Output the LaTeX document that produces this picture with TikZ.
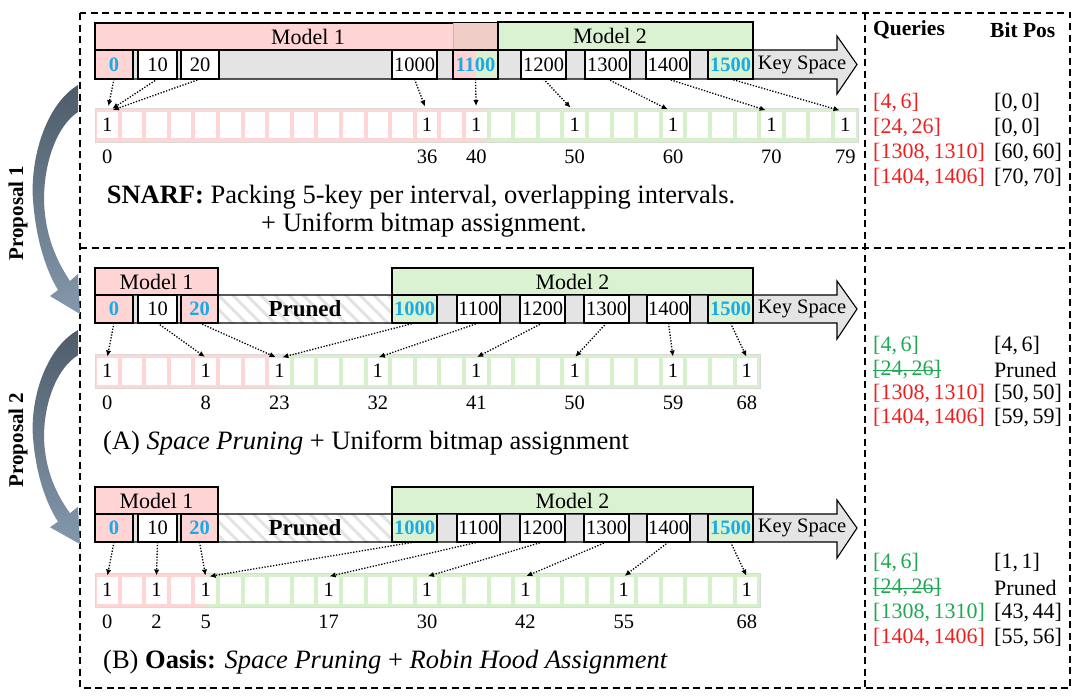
\documentclass[tikz,border=0pt]{standalone}
\usepackage{fontspec}
\setmainfont{Liberation Serif}
\usetikzlibrary{arrows.meta,patterns.meta}
\definecolor{pinkM}{RGB}{255,212,212}
\definecolor{greenM}{RGB}{218,242,210}
\definecolor{grayK}{RGB}{228,228,228}
\definecolor{blueK}{RGB}{26,170,230}
\definecolor{redQ}{RGB}{240,30,30}
\definecolor{greenQ}{RGB}{30,168,82}
\definecolor{overlapC}{RGB}{240,205,198}
\definecolor{pinkS}{RGB}{255,214,214}
\definecolor{greenS}{RGB}{214,240,204}
\definecolor{arrowTop}{RGB}{78,92,106}
\definecolor{arrowBot}{RGB}{132,152,172}
\newcommand\kc[7]{\node[keybox,#6,minimum width={#3-#2},minimum height={#5-#4}] (#1) at ({(#2+#3)/2},{(#4+#5)/2}) {#7};}
\begin{document}
\begin{tikzpicture}[x=1pt,y=-1pt,
 every node/.style={font=\fontsize{20.5}{24}\selectfont},
 keybox/.style={draw=black,line width=1.1pt,inner sep=0pt,outer sep=0pt},
 modelbox/.style={draw=black,line width=1.1pt,inner sep=0pt,outer sep=0pt,font=\fontsize{22}{26}\selectfont},
 modellab/.style={inner sep=0pt,font=\fontsize{22}{26}\selectfont},
 hl/.style={text=blueK,font=\fontsize{20.5}{24}\selectfont\bfseries},
 bitcell/.style={fill=white,inner sep=0pt,outer sep=0pt,minimum width=20.5pt,minimum height=26pt},
 bitlab/.style={inner sep=0pt},
 dotarr/.style={dash pattern=on 1.3pt off 1.6pt,line width=1.3pt,-{Latex[length=6pt,width=5.5pt]}},
 qtxt/.style={anchor=west,inner sep=0pt,font=\fontsize{22}{26}\selectfont},
 qhead/.style={anchor=west,inner sep=0pt,font=\fontsize{21.5}{25}\selectfont\bfseries},
 captext/.style={inner sep=0pt,font=\fontsize{26.5}{31}\selectfont},
 prunedtext/.style={inner sep=0pt,font=\fontsize{23}{27}\selectfont\bfseries},
 proptext/.style={rotate=90,inner sep=0pt,font=\fontsize{21}{25}\selectfont\bfseries},
 dashbox/.style={dash pattern=on 7pt off 4.5pt,line width=1.8pt},
 hatch/.style={pattern={Lines[angle=-45,distance=10pt,line width=3pt]},pattern color=gray!22},
]
\useasboundingbox (0,0) rectangle (1080,699);

% ================= TOP: SNARF =================
\fill[grayK] (95,50) -- (837,50) -- (837,36) -- (857,64.5) -- (837,94) -- (837,79) -- (95,79) -- cycle;
\node[modelbox,fill=pinkM,minimum width=403pt,minimum height=27pt] (tM1) at (296.5,36.5) {};
\fill[overlapC] (453,23) rectangle (498,50);
\draw[gray!55,line width=0.6pt] (453,23) -- (453,50);
\node[modelbox,fill=greenM,minimum width=255pt,minimum height=28pt] (tM2) at (625.5,36) {};
\node[modellab] (tM1l) at (308,36.5) {Model 1};
\node[modellab] (tM2l) at (610,36) {Model 2};
\kc{t0}{95}{133}{50}{79}{fill=pinkM,hl}{0}
\kc{t10}{138}{177}{50}{79}{fill=white}{10}
\kc{t20}{181}{219}{50}{79}{fill=white}{20}
\kc{t1000}{392}{437}{50}{79}{fill=white}{1000}
\fill[pinkM] (453,50) rectangle (476,79);
\fill[greenM] (476,50) rectangle (498,79);
\kc{t1100}{453}{498}{50}{79}{hl}{1100}
\kc{t1200}{521}{566}{50}{79}{fill=white}{1200}
\kc{t1300}{585}{630}{50}{79}{fill=white}{1300}
\kc{t1400}{646}{690}{50}{79}{fill=white}{1400}
\kc{t1500}{708}{753}{50}{79}{fill=greenM,hl}{1500}
\draw[line width=1.1pt,line join=miter] (95,50) -- (837,50) -- (837,36) -- (857,64.5) -- (837,94) -- (837,79) -- (95,79) -- cycle;
\node (tks) at (802,64.5) {Key Space};

\fill[pinkS] (95,108) rectangle (478,142);
\shade[left color=pinkS,right color=greenS] (478,108) rectangle (490,142);
\fill[greenS] (490,108) rectangle (858,142);
\draw[gray!30,line width=0.5pt] (95,108) rectangle (858,142);
\foreach \i in {0,...,30}{
  \gdef\bitval{}
  \foreach \j in {0,13,15,19,23,27,30}{\ifnum\i=\j\relax\gdef\bitval{1}\fi}
  \node[bitcell] (ta\i) at ({107.25+24.6*\i},125) {\bitval};
}
\foreach \i/\l in {0/0,13/36,15/40,19/50,23/60,27/70,30/79}
  \node[bitlab] (tl\i) at ({107.25+24.6*\i},157) {\l};
\draw[dotarr,shorten >=6pt] (t0.south) -- (ta0.north);
\draw[dotarr,shorten >=6pt] (t10.south) -- (ta0.north);
\draw[dotarr,shorten >=6pt] (t20.south) -- (ta0.north);
\draw[dotarr,shorten >=6pt] (t1000.south) -- (ta13.north);
\draw[dotarr,shorten >=6pt] (t1100.south) -- (ta15.north);
\draw[dotarr,shorten >=6pt] (t1200.south) -- (ta19.north);
\draw[dotarr,shorten >=6pt] (t1300.south) -- (ta23.north);
\draw[dotarr,shorten >=6pt] (t1400.south) -- (ta27.north);
\draw[dotarr,shorten >=6pt] (t1500.south) -- (ta30.north);
\node[captext] (capS1) at (421,197) {\textbf{SNARF:} Packing 5-key per interval, overlapping intervals.};
\node[captext] (capS2) at (424,225) {+ Uniform bitmap assignment.};

% ================= MIDDLE: (A) =================
\node[modelbox,fill=pinkM,minimum width=123pt,minimum height=27pt] (mM1) at (156.5,281.5) {Model 1};
\node[modelbox,fill=greenM,minimum width=361pt,minimum height=27pt] (mM2) at (572.5,281.5) {Model 2};
\fill[grayK] (95,295) -- (837,295) -- (837,281) -- (857,309) -- (837,339) -- (837,323) -- (95,323) -- cycle;
\fill[white] (218,295) rectangle (392,323);
\fill[hatch] (218,295) rectangle (392,323);
\kc{m0}{95}{133}{295}{323}{fill=pinkM,hl}{0}
\kc{m10}{138}{177}{295}{323}{fill=white}{10}
\kc{m20}{181}{218}{295}{323}{fill=pinkM,hl}{20}
\kc{m1000}{392}{437}{295}{323}{fill=greenM,hl}{1000}
\kc{m1100}{457}{500}{295}{323}{fill=white}{1100}
\kc{m1200}{520}{565}{295}{323}{fill=white}{1200}
\kc{m1300}{584}{629}{295}{323}{fill=white}{1300}
\kc{m1400}{647}{690}{295}{323}{fill=white}{1400}
\kc{m1500}{708}{753}{295}{323}{fill=greenM,hl}{1500}
\draw[line width=1.1pt,line join=miter] (95,295) -- (837,295) -- (837,281) -- (857,309) -- (837,339) -- (837,323) -- (95,323) -- cycle;
\node (mks) at (802,309) {Key Space};
\node[prunedtext] (mpr) at (305,309) {Pruned};

\fill[pinkS] (95,354) rectangle (275,388);
\shade[left color=pinkS,right color=greenS] (275,354) rectangle (285,388);
\fill[greenS] (285,354) rectangle (760,388);
\draw[gray!30,line width=0.5pt] (95,354) rectangle (760,388);
\foreach \i in {0,...,26}{
  \gdef\bitval{}
  \foreach \j in {0,4,7,11,15,19,23,26}{\ifnum\i=\j\relax\gdef\bitval{1}\fi}
  \node[bitcell,minimum height=27pt] (bm\i) at ({107.25+24.6*\i},371) {\bitval};
}
\foreach \i/\l in {0/0,4/8,7/23,11/32,15/41,19/50,23/59,26/68}
  \node[bitlab] (ml\i) at ({107.25+24.6*\i},403) {\l};
\draw[dotarr,shorten >=1pt] (m0.south) -- (bm0.north);
\draw[dotarr,shorten >=1pt] (m10.south) -- (bm4.north);
\draw[dotarr,shorten >=1pt] (m20.south) -- ([xshift=-3pt]bm7.north);
\draw[dotarr,shorten >=1pt] (m1000.south) -- ([xshift=2pt]bm7.north);
\draw[dotarr,shorten >=1pt] (m1100.south) -- (bm11.north);
\draw[dotarr,shorten >=1pt] (m1200.south) -- (bm15.north);
\draw[dotarr,shorten >=1pt] (m1300.south) -- (bm19.north);
\draw[dotarr,shorten >=1pt] (m1400.south) -- (bm23.north);
\draw[dotarr,shorten >=1pt] (m1500.south) -- (bm26.north);
\node[captext,anchor=west] (capA) at (103,443) {(A) \textit{Space Pruning} + Uniform bitmap assignment};

% ================= BOTTOM: (B) =================
\node[modelbox,fill=pinkM,minimum width=123pt,minimum height=27pt] (bM1) at (156.5,500.5) {Model 1};
\node[modelbox,fill=greenM,minimum width=361pt,minimum height=27pt] (bM2) at (572.5,500.5) {Model 2};
\fill[grayK] (95,514) -- (837,514) -- (837,500) -- (857,528) -- (837,558) -- (837,542) -- (95,542) -- cycle;
\fill[white] (218,514) rectangle (392,542);
\fill[hatch] (218,514) rectangle (392,542);
\kc{b0}{95}{133}{514}{542}{fill=pinkM,hl}{0}
\kc{b10}{138}{177}{514}{542}{fill=white}{10}
\kc{b20}{181}{218}{514}{542}{fill=pinkM,hl}{20}
\kc{b1000}{392}{437}{514}{542}{fill=greenM,hl}{1000}
\kc{b1100}{457}{500}{514}{542}{fill=white}{1100}
\kc{b1200}{520}{565}{514}{542}{fill=white}{1200}
\kc{b1300}{584}{629}{514}{542}{fill=white}{1300}
\kc{b1400}{647}{690}{514}{542}{fill=white}{1400}
\kc{b1500}{708}{753}{514}{542}{fill=greenM,hl}{1500}
\draw[line width=1.1pt,line join=miter] (95,514) -- (837,514) -- (837,500) -- (857,528) -- (837,558) -- (837,542) -- (95,542) -- cycle;
\node (bks) at (802,528) {Key Space};
\node[prunedtext] (bpr) at (305,528) {Pruned};

\fill[pinkS] (95,573) rectangle (201,607);
\shade[left color=pinkS,right color=greenS] (201,573) rectangle (211,607);
\fill[greenS] (211,573) rectangle (760,607);
\draw[gray!30,line width=0.5pt] (95,573) rectangle (760,607);
\foreach \i in {0,...,26}{
  \gdef\bitval{}
  \foreach \j in {0,2,4,9,13,17,21,26}{\ifnum\i=\j\relax\gdef\bitval{1}\fi}
  \node[bitcell,minimum height=27pt] (bb\i) at ({107.25+24.6*\i},590) {\bitval};
}
\foreach \i/\l in {0/0,2/2,4/5,9/17,13/30,17/42,21/55,26/68}
  \node[bitlab] (bl\i) at ({107.25+24.6*\i},622) {\l};
\draw[dotarr,shorten >=1pt] (b0.south) -- (bb0.north);
\draw[dotarr,shorten >=1pt] (b10.south) -- (bb2.north);
\draw[dotarr,shorten >=1pt] (b20.south) -- (bb4.north);
\draw[dotarr,shorten >=1pt] (b1000.south) -- ([xshift=3pt]bb4.north);
\draw[dotarr,shorten >=1pt] (b1100.south) -- (bb9.north);
\draw[dotarr,shorten >=1pt] (b1200.south) -- (bb13.north);
\draw[dotarr,shorten >=1pt] (b1300.south) -- (bb17.north);
\draw[dotarr,shorten >=1pt] (b1400.south) -- (bb21.north);
\draw[dotarr,shorten >=1pt] (b1500.south) -- (bb26.north);
\node[captext,anchor=west] (capB) at (103,662) {(B) \textbf{Oasis:} \textit{Space Pruning} + \textit{Robin Hood Assignment}};

% ================= RIGHT COLUMN =================
\node[qhead] (hq) at (873,30) {Queries};
\node[qhead] (hb) at (990,30) {Bit Pos};
% top
\node[qtxt,text=redQ] (q1t) at (873,103) {[4,\,6]};
\node[qtxt,text=redQ] (q2t) at (873,128) {[24,\,26]};
\node[qtxt,text=redQ] (q3t) at (873,153) {[1308,\,1310]};
\node[qtxt,text=redQ] (q4t) at (873,178) {[1404,\,1406]};
\node[qtxt] (p1t) at (994,103) {[0,\,0]};
\node[qtxt] (p2t) at (994,128) {[0,\,0]};
\node[qtxt] (p3t) at (994,153) {[60,\,60]};
\node[qtxt] (p4t) at (994,178) {[70,\,70]};
% middle
\node[qtxt,text=greenQ] (q1m) at (873,346) {[4,\,6]};
\node[qtxt,text=greenQ] (q2m) at (873,370) {[24,\,26]};
\node[qtxt,text=redQ] (q3m) at (873,394) {[1308,\,1310]};
\node[qtxt,text=redQ] (q4m) at (873,418) {[1404,\,1406]};
\draw[greenQ,line width=1pt] (q2m.west) -- (q2m.east);
\node[qtxt] (p1m) at (994,346) {[4,\,6]};
\node[qtxt] (p2m) at (994,370) {Pruned};
\node[qtxt] (p3m) at (994,394) {[50,\,50]};
\node[qtxt] (p4m) at (994,418) {[59,\,59]};
% bottom
\node[qtxt,text=greenQ] (q1b) at (873,563) {[4,\,6]};
\node[qtxt,text=greenQ] (q2b) at (873,588) {[24,\,26]};
\node[qtxt,text=greenQ] (q3b) at (873,613) {[1308,\,1310]};
\node[qtxt,text=redQ] (q4b) at (873,638) {[1404,\,1406]};
\draw[greenQ,line width=1pt] (q2b.west) -- (q2b.east);
\node[qtxt] (p1b) at (994,563) {[1,\,1]};
\node[qtxt] (p2b) at (994,588) {Pruned};
\node[qtxt] (p3b) at (994,613) {[43,\,44]};
\node[qtxt] (p4b) at (994,638) {[55,\,56]};

% ================= DASHED FRAMES =================
\draw[dashbox] (80,13) rectangle (1070,688);
\draw[dashbox] (865,13) -- (865,688);
\draw[dashbox] (80,248) -- (1070,248);

% ================= PROPOSAL ARROWS =================
\begin{scope}[shift={(0,85)}]
\shade[top color=arrowTop,bottom color=arrowBot] (78,0) .. controls (45,20) and (30,75) .. (33,115) .. controls (36,155) and (46,185) .. (58,205) -- (50,211) -- (80,229) -- (78,189) -- (70,196) .. controls (56,175) and (45,150) .. (44,115) .. controls (44,75) and (58,40) .. (78,27) -- cycle;
\end{scope}
\begin{scope}[shift={(0,330)},yscale=0.935]
\shade[top color=arrowTop,bottom color=arrowBot] (78,0) .. controls (45,20) and (30,75) .. (33,115) .. controls (36,155) and (46,185) .. (58,205) -- (50,211) -- (80,229) -- (78,189) -- (70,196) .. controls (56,175) and (45,150) .. (44,115) .. controls (44,75) and (58,40) .. (78,27) -- cycle;
\end{scope}
\node[proptext] (pr1) at (18,213) {Proposal 1};
\node[proptext] (pr2) at (18,440) {Proposal 2};
\end{tikzpicture}
\end{document}
